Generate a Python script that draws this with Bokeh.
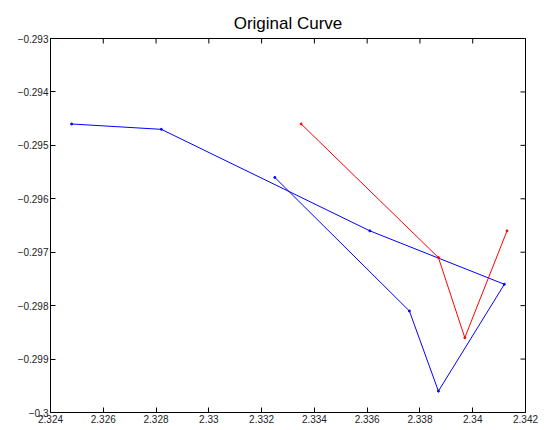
import math
from bokeh.plotting import figure
from bokeh.models import LinearAxis, FixedTicker, Range1d
from bokeh.embed import file_html
from bokeh.resources import INLINE

# Curve vertices
blue_x = [2.3248, 2.3282, 2.3361, 2.3412, 2.3387, 2.3376, 2.3325]
blue_y = [-0.2946, -0.2947, -0.2966, -0.2976, -0.2996, -0.2981, -0.2956]
red_x = [2.3335, 2.3387, 2.3397, 2.3413]
red_y = [-0.2946, -0.2971, -0.2986, -0.2966]

# Axis ticks and labels
x_ticks = [2.324, 2.326, 2.328, 2.330, 2.332, 2.334, 2.336, 2.338, 2.340, 2.342]
x_labels = ["2.324", "2.326", "2.328", "2.33", "2.332", "2.334", "2.336", "2.338", "2.34", "2.342"]
y_ticks = [-0.300, -0.299, -0.298, -0.297, -0.296, -0.295, -0.294, -0.293]
y_labels = ["\u22120.3", "\u22120.299", "\u22120.298", "\u22120.297", "\u22120.296", "\u22120.295", "\u22120.294", "\u22120.293"]

FONT = "Liberation Sans"
X_MIN, X_MAX = 2.324, 2.342
Y_MIN, Y_MAX = -0.300, -0.293

p = figure(width=547, height=430, output_backend="svg", toolbar_location=None,
           x_range=Range1d(X_MIN, X_MAX), y_range=Range1d(Y_MIN, Y_MAX),
           x_axis_location=None, y_axis_location=None,
           min_border_left=50, min_border_right=22, min_border_top=38, min_border_bottom=18)

p.title.text = "Original Curve"
p.title.align = "center"
p.title.text_font = FONT
p.title.text_font_size = "17px"
p.title.text_font_style = "normal"
p.title.text_color = "black"
p.title.offset = 0
p.title.standoff = 12

p.grid.visible = False
p.outline_line_color = "black"
p.outline_line_width = 1
p.background_fill_color = "white"
p.border_fill_color = "white"


def make_axis(ticks, labels):
    ax = LinearAxis(ticker=FixedTicker(ticks=ticks))
    ax.major_label_overrides = {t: l for t, l in zip(ticks, labels)}
    ax.major_tick_in = 5
    ax.major_tick_out = 0
    ax.minor_tick_in = 0
    ax.minor_tick_out = 0
    ax.axis_line_color = "black"
    ax.major_tick_line_color = "black"
    ax.major_label_text_font = FONT
    ax.major_label_text_font_size = "10px"
    ax.major_label_text_color = "#222222"
    ax.major_label_standoff = 2
    return ax


p.add_layout(make_axis(x_ticks, x_labels), "below")
p.add_layout(make_axis(y_ticks, y_labels), "left")

# Inward ticks on the top and right edges of the box (clipped to the frame)
p.scatter(x_ticks, [Y_MAX] * len(x_ticks), marker="dash", size=10,
          angle=math.pi / 2, line_color="black", line_width=1)
p.scatter([X_MAX] * len(y_ticks), y_ticks, marker="dash", size=10,
          line_color="black", line_width=1)

p.line(blue_x, blue_y, line_color="#0000ff", line_width=1)
p.scatter(blue_x, blue_y, size=2, color="#0000ff")
p.line(red_x, red_y, line_color="#ff0000", line_width=1)
p.scatter(red_x, red_y, size=2, color="#ff0000")

open("out.html", "w").write(file_html(p, INLINE))
